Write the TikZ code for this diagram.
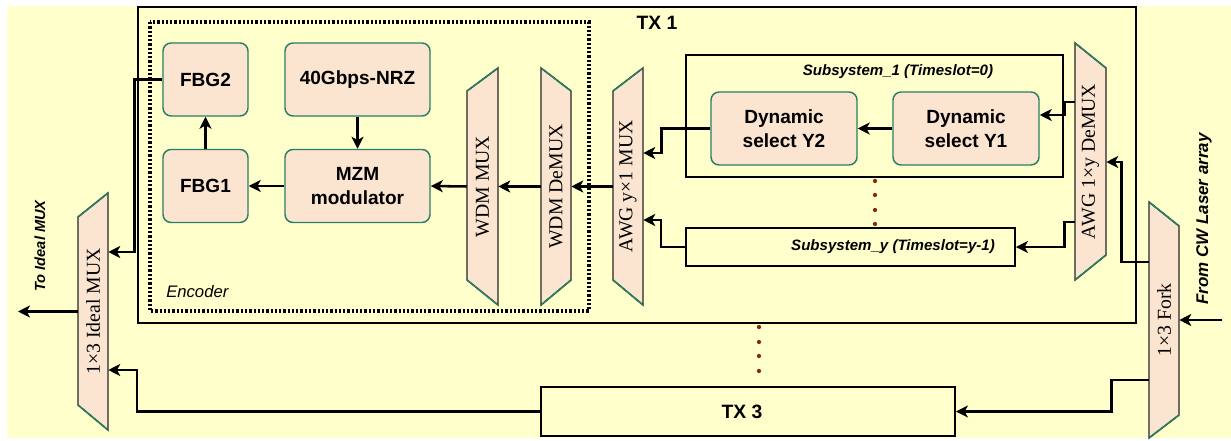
\documentclass[tikz,border=0pt]{standalone}
\usepackage{fontspec}
\setmainfont{Liberation Sans}
\newfontfamily\serifx{Liberation Serif}
\usetikzlibrary{arrows.meta,calc,fit}
\definecolor{bgy}{HTML}{FFFFCC}
\definecolor{peach}{HTML}{FBE4D0}
\definecolor{tealx}{HTML}{2A7F62}
\definecolor{dotred}{HTML}{8B2A0A}
\newcommand\trapz[8]{% name, x1, x2, lt, rt, lb, rb, label
  \filldraw[trap] (#2,#4) -- (#3,#5) -- (#3,#7) -- (#2,#6) -- cycle;
  \draw[slant] (#2,#4) -- (#3,#5) (#2,#6) -- (#3,#7);
  \node[draw=none, fit={(#2,{min(#4,#5)}) (#3,{max(#6,#7)})}, inner sep=0pt] (#1) {};
  \node[tlabel] (#1-t) at (#1.center) {#8};
}
\begin{document}
\begin{tikzpicture}[x=0.75pt,y=-0.75pt,
  box/.style={draw=tealx,fill=peach,rounded corners=6pt,line width=1.1pt,align=center,
    font=\bfseries\fontsize{14.3}{18}\selectfont,inner sep=0pt},
  frame/.style={draw=black,line width=1.4pt,inner sep=0pt},
  arr/.style={line width=1.9pt,-{Stealth[length=9pt,width=9pt,inset=2.5pt]}},
  trap/.style={fill=peach,draw=black!85,line width=1.1pt},
  slant/.style={draw=tealx,line width=1.1pt},
  tlabel/.style={rotate=90,font=\serifx\fontsize{14.8}{16}\selectfont,inner sep=0pt},
  side/.style={rotate=90,font=\bfseries\itshape\fontsize{#1}{14}\selectfont,inner sep=0pt},
  dotx/.style={fill=dotred}
]
\useasboundingbox (0,0) rectangle (1231,441);
\fill[bgy] (7,6) rectangle (1231,438);

% frames
\node[frame, fit={(138,7) (1136,323)}] (tx1) {};
\node[font=\bfseries\fontsize{14.5}{16}\selectfont] (tx1lab) at (657,23) {TX 1};
\draw[line width=2.3pt, dash pattern=on 1.7pt off 1.5pt] (150,22) rectangle (589,311);
\node[anchor=west,font=\itshape\fontsize{12.5}{14}\selectfont,inner sep=0pt] (enclab) at (166,292) {Encoder};

\node[frame, fit={(686,55) (1063,177)}] (s1) {};
\node[font=\bfseries\itshape\fontsize{11.3}{13}\selectfont] (s1lab) at (898,72) {Subsystem\_1 (Timeslot=0)};
\node[frame, fit={(686,228) (1015,266)}] (sy) {};
\node[font=\bfseries\itshape\fontsize{11.3}{13}\selectfont] (sylab) at (893,247) {Subsystem\_y (Timeslot=y-1)};

\node[frame, fit={(541,387) (955,436)}] (tx3) {};
\node[font=\bfseries\fontsize{14.5}{16}\selectfont] (tx3lab) at (742,412) {TX 3};

% rounded boxes
\node[box, minimum width=63.75pt, minimum height=54.75pt] (fbg2) at (205.5,79.5) {FBG2};
\node[box, minimum width=108.75pt, minimum height=54.75pt] (nrz) at (357.5,79.5) {40Gbps-NRZ};
\node[box, minimum width=63.75pt, minimum height=54.75pt] (fbg1) at (205.5,186) {FBG1};
\node[box, minimum width=108.75pt, minimum height=54.75pt] (mzm) at (357.5,186) {MZM\\modulator};
\node[box, minimum width=109.5pt, minimum height=54.75pt] (y2) at (784,128.5) {Dynamic\\select Y2};
\node[box, minimum width=109.5pt, minimum height=54.75pt] (y1) at (966,128.5) {Dynamic\\select Y1};

% trapezoids
\trapz{wdmmux}{467}{498}{91}{68}{280}{305}{WDM MUX}
\trapz{wdmdemux}{541}{571}{68}{91}{305}{280}{WDM DeMUX}
\trapz{awgmux}{613}{643}{91}{68}{280}{305}{AWG y×1 MUX}
\trapz{awgdemux}{1075}{1106}{43}{68}{280}{255}{AWG 1×y DeMUX}
\trapz{fork}{1149}{1179}{202}{226}{438}{415}{1×3 Fork}
\trapz{idealmux}{78}{108}{217}{193}{405}{430}{1×3 Ideal MUX}

% side labels
\node[side=11] (tolab) at (40,246) {To Ideal MUX};
\node[side=12.7] (fromlab) at (1204,219) {From CW Laser array};

% dots
\foreach \yy in {181,195,210,224} \fill[dotx] (875,\yy) circle[radius=1.6pt];
\foreach \yy in {327,342,356,371} \fill[dotx] (759,\yy) circle[radius=1.6pt];

% connectors
\coordinate (cw) at (1222,320);
\coordinate (out) at (18,311.5);
\draw[arr] (nrz) -- (mzm);
\draw[arr] (fbg1) -- (fbg2);
\draw[arr] (mzm) -- (fbg1);
\draw[arr] (wdmmux.west) -- (mzm.east);
\draw[arr] (wdmdemux.west) -- (wdmmux.east);
\draw[arr] (awgmux.west) -- (wdmdemux.east);
\draw[arr] (y1) -- (y2);
\draw[arr] (y2.west) -- ++(-49,0) |- ($(awgmux.east)+(0,-33.5)$);
\draw[arr] (sy.west) -- ++(-24,0) |- ($(awgmux.east)+(0,33.5)$);
\draw[arr] ($(awgdemux.west)+(0,-59.5)$) -- ++(-10,0) |- ($(y1.east)+(0,-13.5)$);
\draw[arr] ($(awgdemux.west)+(0,60.5)$) -- ++(-10,0) |- (sy.east);
\draw[arr] ($(fork.west)+(0,-58)$) -- ++(-27,0) |- ($(awgdemux.east)+(0,0.5)$);
\draw[arr] ($(fork.west)+(0,60)$) -- ++(-37,0) |- (tx3.east);
\draw[arr] (cw) -- (fork.east);
\draw[arr] (tx3.west) -- ++(-403,0) |- ($(idealmux.east)+(0,58.5)$);
\draw[arr] (fbg2.west) -- ++(-28,0) |- ($(idealmux.east)+(0,-59.5)$);
\draw[arr] (idealmux.west) -- (out);
\end{tikzpicture}
\end{document}
